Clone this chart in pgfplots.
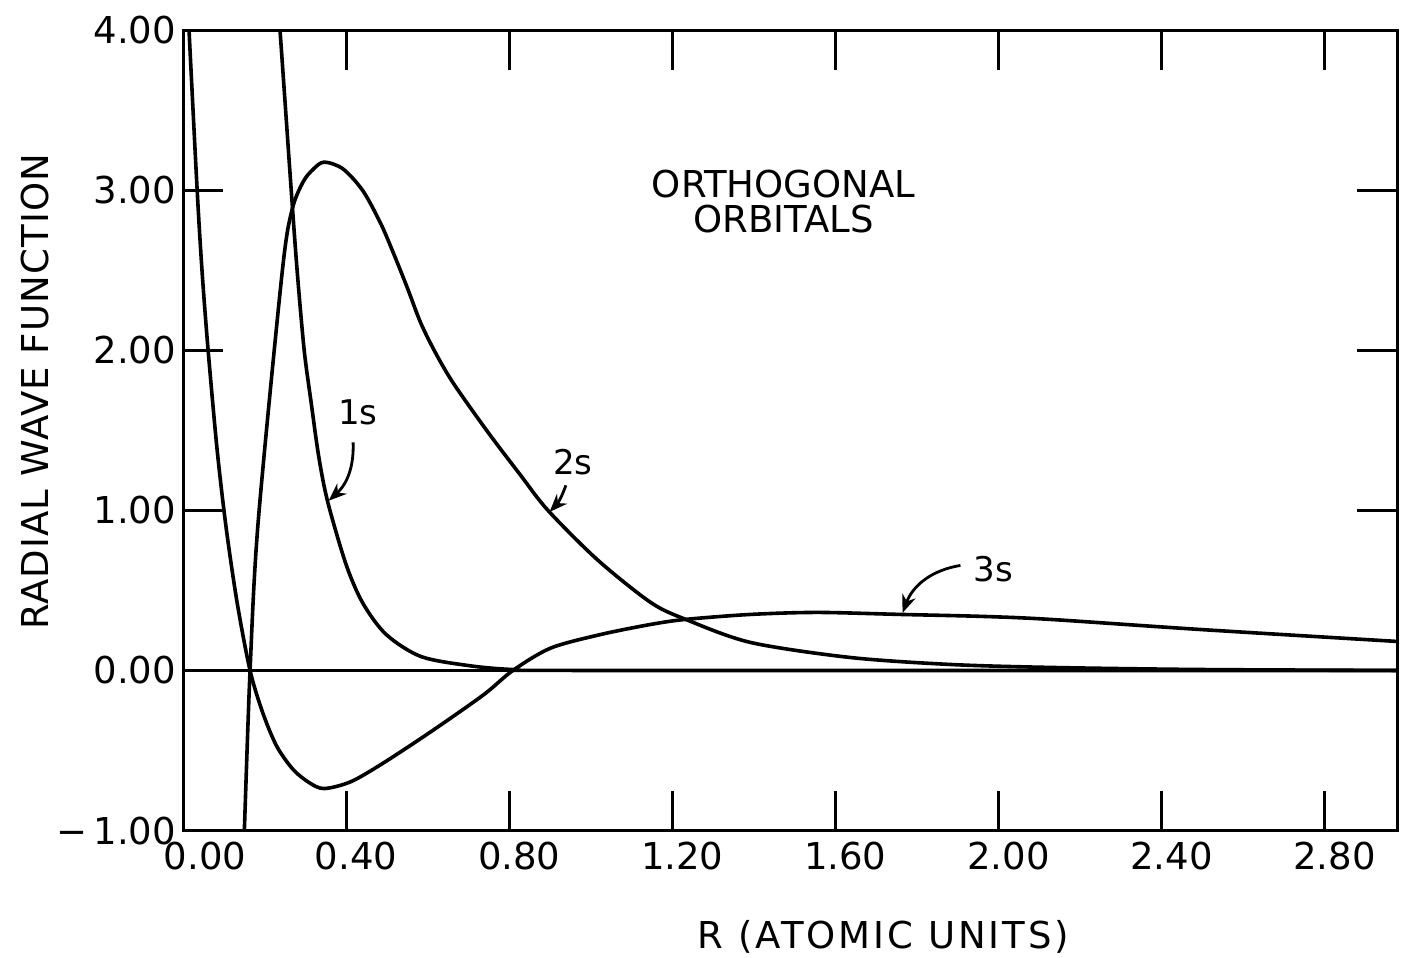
\documentclass[border=0pt]{standalone}
\usepackage{fontspec}
\setmainfont{DejaVu Sans}
\usepackage{pgfplots}
\pgfplotsset{compat=1.18}
\usetikzlibrary{arrows.meta}

\pgfplotstableread{
x y
0.005 4.5
0.0147 3.9875
0.0343 3.006
0.0466 2.4875
0.0613 2.0
0.0833 1.381
0.1054 0.894
0.1324 0.425
0.1642 0.0
0.196 -0.269
0.230 -0.475
0.270 -0.619
0.309 -0.700
0.346 -0.7375
0.412 -0.694
0.493 -0.575
0.615 -0.37
0.738 -0.15
0.809 0.0
0.902 0.14
1.025 0.225
1.147 0.2875
1.233 0.319
1.392 0.35
1.556 0.3625
1.760 0.35
1.963 0.3375
2.127 0.319
2.495 0.256
2.980 0.181
}\threes

\pgfplotstableread{
x y
0.145 -1.325
0.150 -1.0125
0.1642 0.0
0.184 0.925
0.243 2.4875
0.267 2.875
0.294 3.05
0.319 3.13
0.346 3.175
0.392 3.133
0.441 2.996
0.485 2.79
0.517 2.60
0.550 2.39
0.583 2.17
0.620 1.98
0.664 1.79
0.748 1.4875
0.828 1.219
0.895 1.0
1.017 0.69
1.147 0.425
1.233 0.319
1.392 0.175
1.637 0.081
1.882 0.0375
2.127 0.019
2.495 0.006
2.980 0.0
}\twos

\pgfplotstableread{
x y
0.223 4.5
0.238 3.9875
0.265 3.006
0.280 2.4875
0.297 2.0
0.314 1.675
0.333 1.331
0.355 1.05
0.400 0.66
0.441 0.42
0.498 0.225
0.583 0.0875
0.699 0.031
0.809 0.006
1.000 0.0
2.980 0.0
}\ones

\begin{document}
\begin{tikzpicture}
\begin{axis}[
  scale only axis,
  width=606.5pt, height=400pt,
  xmin=0, xmax=2.978, ymin=-1, ymax=4,
  xtick={0,0.4,0.8,1.2,1.6,2.0,2.4,2.8},
  xticklabels={\hspace*{12pt}0.00,0.40,0.80,1.20,1.60,2.00,2.40,2.80},
  ytick={-1,0,1,2,3,4},
  yticklabels={−\,1.00,0.00,1.00,2.00,3.00,4.00},
  tick align=inside,
  major tick length=20pt,
  every tick/.style={line width=1.4pt, black},
  axis line style={line width=1.5pt},
  tick label style={font=\fontsize{18.5}{22}\selectfont},
  xticklabel style={xshift=5pt, yshift=-2pt},
  xlabel={R (ATOMIC UNITS)},
  ylabel={RADIAL WAVE FUNCTION},
  xlabel style={at={(axis description cs:0.577,-0.1323)}, anchor=center,
    font=\fontsize{18.5}{22}\selectfont\addfontfeatures{LetterSpace=8}},
  ylabel style={at={(axis description cs:-0.1219,0.548)}, anchor=center,
    font=\fontsize{18.5}{22}\selectfont\addfontfeatures{LetterSpace=3}},
  clip=true,
]
\addplot[line width=1.3pt] coordinates {(0,0) (2.978,0)};
\addplot[line width=1.8pt, smooth, tension=0.5] table[x=x,y=y] {\threes};
\addplot[line width=1.8pt, smooth, tension=0.5] table[x=x,y=y] {\twos};
\addplot[line width=1.8pt, smooth, tension=0.5] table[x=x,y=y] {\ones};

\node[font=\fontsize{18.5}{22}\selectfont] at (axis cs:1.473,3.0375) {ORTHOGONAL};
\node[font=\fontsize{18.5}{22}\selectfont] at (axis cs:1.473,2.82) {ORBITALS};

\node[font=\fontsize{17}{20}\selectfont] at (axis cs:0.429,1.6125) {1s};
\node[font=\fontsize{17}{20}\selectfont] at (axis cs:0.956,1.30) {2s};
\node[font=\fontsize{17}{20}\selectfont] at (axis cs:1.988,0.631) {3s};

\draw[line width=1.4pt, -{Stealth[length=9pt,width=7pt]}] (axis cs:0.417,1.425) to[bend left=25] (axis cs:0.357,1.06);
\draw[line width=1.4pt, -{Stealth[length=9pt,width=7pt]}] (axis cs:0.939,1.156) to[bend left=12] (axis cs:0.899,0.99);
\draw[line width=1.4pt, -{Stealth[length=9pt,width=7pt]}] (axis cs:1.907,0.656) to[bend right=30] (axis cs:1.765,0.36);

\coordinate (bl) at (rel axis cs:0,0);
\coordinate (tr) at (rel axis cs:1,1);
\end{axis}
\pgfresetboundingbox
\path[use as bounding box] ([shift={(-91.5pt,-63.5pt)}]bl) rectangle ([shift={(2pt,15pt)}]tr);
\end{tikzpicture}
\end{document}
